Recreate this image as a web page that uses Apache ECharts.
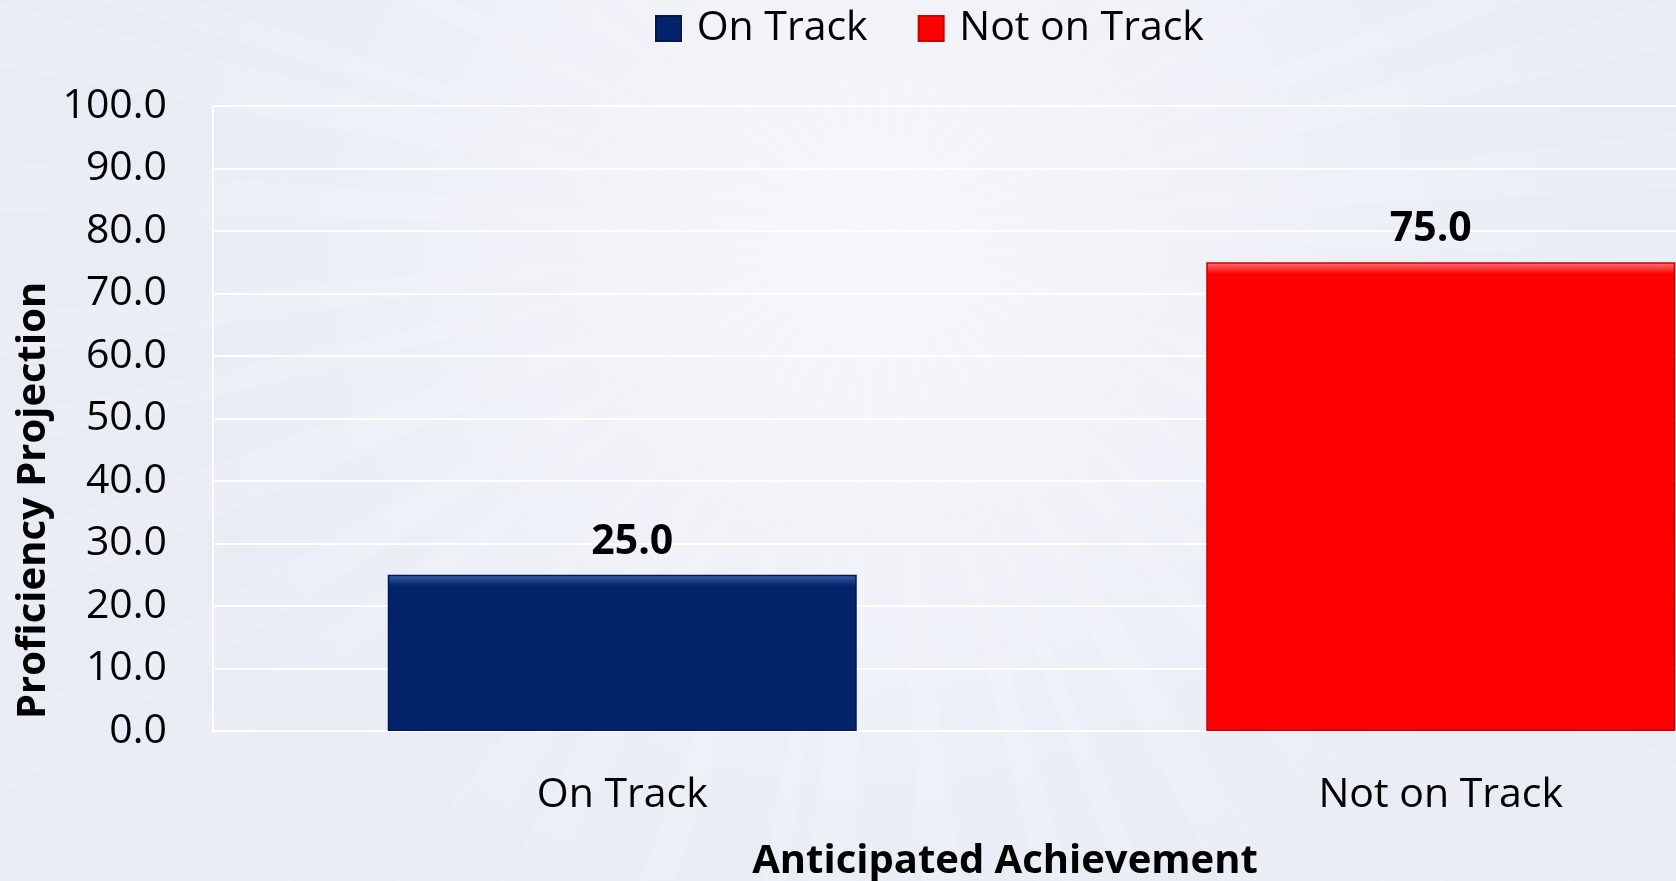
<!DOCTYPE html>
<html>
<head>
<meta charset="utf-8">
<script src="https://cdn.jsdelivr.net/npm/echarts@6/dist/echarts.min.js"></script>
<style>
  html, body { margin: 0; padding: 0; }
  #main { width: 1676px; height: 881px; }
</style>
</head>
<body>
<div id="main"></div>
<script>
// data
var categories = ['On Track', 'Not on Track'];
var values = [25.0, 75.0];
var barColors = ['#03236a', '#ff0000'];
var yTicks = [0, 10, 20, 30, 40, 50, 60, 70, 80, 90, 100];

var myChart = echarts.init(document.getElementById('main'));

// faint light rays behind the chart
var rays = [];
var cx = 880, cy = 230, R = 2200, n = 44;
for (var i = 0; i < n; i++) {
  var a0 = (i / n) * Math.PI * 2 + (i % 3) * 0.02;
  var a1 = a0 + Math.PI * 2 / n * (0.25 + (i % 4) * 0.08);
  rays.push({
    type: 'polygon',
    silent: true,
    z: -10,
    shape: { points: [[cx, cy], [cx + R * Math.cos(a0), cy + R * Math.sin(a0)], [cx + R * Math.cos(a1), cy + R * Math.sin(a1)]] },
    style: { fill: 'rgba(255,255,255,0.13)' }
  });
}

var labelOffsets = [[10, 0], [-10, 0]];

function barItem(v, i) {
  var base = barColors[i];
  return {
    value: v,
    label: { offset: labelOffsets[i] },
    itemStyle: {
      color: new echarts.graphic.LinearGradient(0, 0, 0, 1, [
        { offset: 0, color: i === 0 ? '#3a63ad' : '#ff7a7a' },
        { offset: i === 0 ? 0.07 : 0.025, color: base },
        { offset: 1, color: base }
      ]),
      borderColor: i === 0 ? '#021a4f' : '#c80000',
      borderWidth: 1.5
    }
  };
}

var labelFmt = function (p) { return p.value == null ? '' : p.value.toFixed(1); };

var option = {
  backgroundColor: new echarts.graphic.RadialGradient(0.52, 0.28, 0.8, [
    { offset: 0, color: '#f6f7fa' },
    { offset: 1, color: '#e8ecf5' }
  ]),
  textStyle: { fontFamily: 'Open Sans' },
  legend: {
    top: 3,
    left: 650,
    itemWidth: 25,
    itemHeight: 25,
    itemGap: 50,
    icon: 'rect',
    formatter: ' {name}',
    textStyle: { fontSize: 41, color: '#000', fontFamily: 'Open Sans' },
    data: categories
  },
  grid: {
    left: 213,
    top: 106,
    width: 1637,
    height: 625,
    outerBoundsMode: 'none',
    containLabel: false
  },
  xAxis: {
    type: 'category',
    data: categories,
    axisTick: { show: false },
    axisLine: { show: true, lineStyle: { color: '#ffffff', width: 2 } },
    axisLabel: { color: '#000', fontSize: 41, margin: 44, fontFamily: 'Open Sans' }
  },
  yAxis: {
    type: 'value',
    min: 0,
    max: 100,
    interval: 10,
    axisLine: { show: true, lineStyle: { color: '#ffffff', width: 2 } },
    axisTick: { show: false },
    splitLine: { lineStyle: { color: '#ffffff', width: 2 } },
    axisLabel: {
      color: '#000',
      fontSize: 41,
      margin: 46,
      padding: [5, 0, 0, 0],
      fontFamily: 'Open Sans',
      formatter: function (v) { return yTicks.indexOf(v) >= 0 ? v.toFixed(1) : ''; }
    }
  },
  graphic: rays.concat([
    {
      type: 'text',
      rotation: Math.PI / 2,
      style: {
        text: 'Proficiency Projection',
        font: 'bold 40px "Open Sans"',
        fill: '#000'
      },
      x: 14, y: 719
    },
    {
      type: 'text',
      style: {
        text: 'Anticipated Achievement',
        font: 'bold 40px "Open Sans"',
        fill: '#000',
        textAlign: 'center',
        textVerticalAlign: 'middle'
      },
      x: 1005,
      y: 862
    }
  ]),
  series: [
    {
      name: categories[0],
      type: 'bar',
      stack: 'a',
      barWidth: '57.3%',
      itemStyle: { color: barColors[0], borderColor: '#021a4f', borderWidth: 1.5 },
      label: {
        show: true, position: 'top', distance: 12,
        fontSize: 41, fontWeight: 'bold', color: '#000', fontFamily: 'Open Sans',
        formatter: labelFmt
      },
      data: [barItem(values[0], 0), null]
    },
    {
      name: categories[1],
      type: 'bar',
      stack: 'a',
      barWidth: '57.3%',
      itemStyle: { color: barColors[1], borderColor: '#c80000', borderWidth: 1.5 },
      label: {
        show: true, position: 'top', distance: 12,
        fontSize: 41, fontWeight: 'bold', color: '#000', fontFamily: 'Open Sans',
        formatter: labelFmt
      },
      data: [null, barItem(values[1], 1)]
    }
  ]
};

myChart.setOption(option);
</script>
</body>
</html>
